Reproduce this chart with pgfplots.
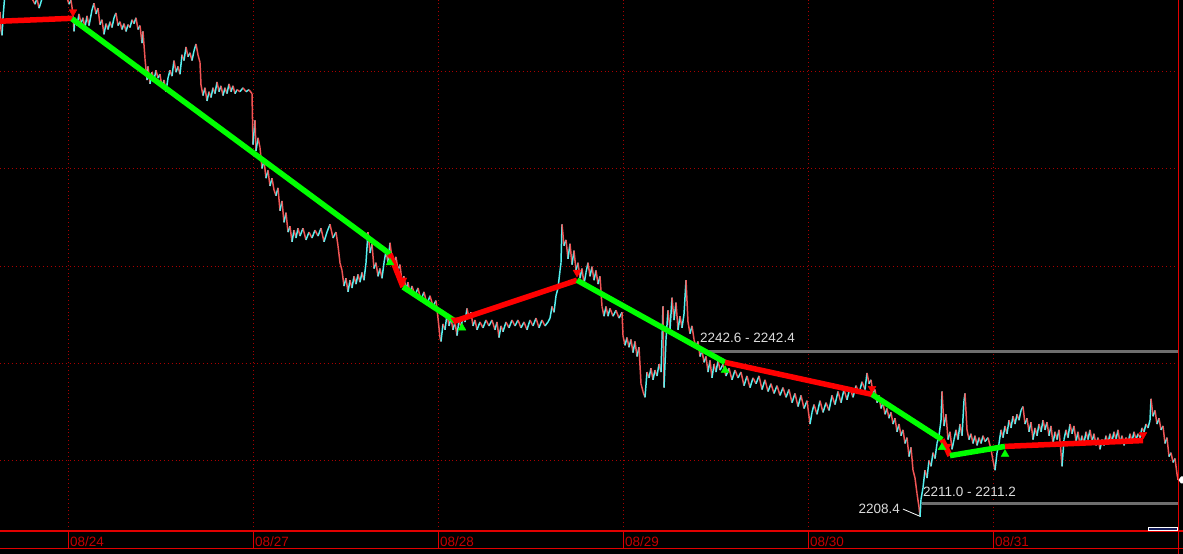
\documentclass[border=0pt]{standalone}
\usepackage{pgfplots}
\usepackage{pgfplotstable}
\pgfplotsset{compat=1.18}
\usepackage{fontspec}
\setmainfont{Liberation Sans}

\definecolor{gridred}{RGB}{170,0,0}
\definecolor{axred}{RGB}{225,0,0}
\definecolor{labred}{RGB}{195,0,0}
\definecolor{upcyan}{RGB}{85,240,240}
\definecolor{dnred}{RGB}{240,85,85}
\definecolor{zzgreen}{RGB}{0,255,0}
\definecolor{zzred}{RGB}{255,0,0}
\definecolor{lvlgray}{RGB}{110,110,110}
\definecolor{txtgray}{RGB}{220,220,220}

% price path: bar index, price, direction of the following move (1 up, 0 down)
\pgfplotstableread{
x p c
0 2312.3 0
1 2308.7 0
2 2307.5 1
3 2311.1 1
5 2316.3 1
10 2317.7 0
20 2317.1 0
30 2315.9 0
35 2313.9 1
37 2315.1 0
39 2313.1 1
41 2314.3 1
44 2316.7 1
55 2317.5 0
66 2315.9 0
69 2313.9 1
71 2314.7 0
73 2311.9 0
74 2308.3 1
75 2311.1 0
77 2309.5 1
79 2311.9 0
81 2309.9 1
83 2311.1 0
85 2309.1 1
87 2311.5 0
89 2309.5 1
92 2312.7 1
94 2314.1 0
96 2311.9 1
98 2313.1 0
100 2309.7 1
102 2310.7 0
104 2307.7 1
106 2309.9 0
108 2308.7 1
110 2310.3 0
112 2309.1 1
114 2311.1 1
116 2312.1 0
118 2309.5 1
120 2310.3 0
122 2308.7 1
124 2309.9 0
126 2308.3 1
128 2309.7 0
130 2309.1 1
132 2310.7 0
134 2309.9 1
136 2311.1 0
138 2308.7 1
140 2309.5 0
142 2305.9 1
143 2308.3 0
145 2302.7 0
147 2298.3 1
148 2301.1 0
150 2297.5 1
152 2299.9 0
154 2298.3 1
156 2300.3 0
158 2298.7 1
160 2299.5 0
162 2296.7 1
164 2298.3 0
166 2295.9 1
168 2298.7 1
170 2300.3 0
172 2299.1 1
174 2302.3 0
176 2299.9 1
178 2301.1 0
180 2299.5 1
182 2303.5 0
184 2302.3 1
186 2305.1 0
188 2303.1 1
190 2303.9 0
192 2302.3 1
194 2304.3 1
196 2305.7 0
198 2303.5 0
200 2301.9 0
201 2297.3 0
203 2295.1 1
205 2296.7 0
207 2294.0 1
209 2295.9 0
211 2294.7 1
213 2296.7 0
215 2295.5 1
217 2297.9 0
219 2295.9 1
221 2297.1 0
223 2295.1 1
225 2296.7 0
227 2295.5 1
229 2297.5 0
231 2295.9 1
233 2297.1 0
235 2295.5 1
237 2296.3 0
240 2295.9 1
243 2296.7 0
246 2295.9 1
249 2296.3 0
252 2295.5 0
253 2285.0 1
255 2290.0 0
256 2283.7 1
258 2286.4 0
260 2284.4 0
262 2280.1 1
264 2281.7 0
266 2278.1 1
268 2279.7 0
270 2276.5 1
272 2278.1 0
274 2275.7 0
276 2274.5 1
278 2276.1 0
280 2271.4 1
282 2273.4 0
284 2269.0 1
286 2271.0 0
288 2267.0 1
290 2268.2 0
292 2265.0 1
294 2267.4 0
296 2265.8 1
298 2267.8 0
300 2266.2 1
303 2267.8 0
306 2265.4 1
309 2267.0 0
312 2265.8 1
315 2267.4 0
318 2266.2 1
321 2267.8 0
324 2265.0 1
327 2267.0 1
330 2268.6 0
333 2265.8 1
336 2267.0 0
338 2264.2 0
340 2260.7 0
342 2259.1 0
344 2255.9 1
346 2257.5 0
348 2254.7 1
350 2257.1 0
352 2255.5 1
354 2257.9 0
356 2256.3 1
358 2258.3 0
360 2256.7 1
362 2258.7 0
364 2257.1 1
366 2260.7 1
368 2267.0 0
370 2262.7 1
372 2264.6 0
374 2259.5 1
376 2260.7 0
378 2257.9 1
380 2259.5 0
382 2257.5 1
384 2260.7 1
386 2263.1 0
388 2260.7 1
390 2264.8 0
392 2261.5 0
394 2260.7 1
396 2261.9 0
398 2259.1 1
400 2260.3 0
402 2256.7 1
404 2257.9 0
406 2255.1 1
408 2256.7 0
410 2254.3 1
412 2255.9 0
415 2253.9 1
418 2255.5 0
421 2252.9 1
424 2254.7 0
427 2252.1 1
430 2253.9 0
433 2251.7 1
436 2252.9 0
438 2249.3 0
440 2245.3 0
441 2244.5 1
443 2248.1 0
445 2246.9 1
447 2250.1 0
449 2247.7 1
451 2249.3 0
453 2246.9 1
455 2248.5 0
457 2245.7 1
459 2248.9 0
461 2247.3 1
463 2249.7 0
465 2248.5 1
467 2251.3 0
469 2249.3 1
471 2250.5 0
473 2247.7 1
475 2248.9 0
477 2246.9 1
480 2248.5 0
483 2247.3 1
486 2248.9 0
489 2247.7 1
492 2248.9 0
495 2246.9 1
497 2248.5 0
499 2245.3 1
501 2247.7 0
503 2246.5 1
506 2248.5 0
509 2247.3 1
512 2248.9 0
515 2247.7 1
518 2248.9 0
521 2247.3 1
524 2248.5 0
527 2246.9 1
530 2248.9 0
533 2247.7 1
536 2249.3 0
539 2247.3 1
542 2248.9 0
545 2247.7 1
548 2248.5 1
550 2249.3 1
552 2251.7 0
554 2250.5 1
556 2253.9 1
558 2255.5 1
560 2259.1 1
561 2260.7 1
562 2268.6 0
564 2264.2 1
566 2265.4 0
568 2261.5 1
570 2264.6 0
572 2260.3 1
574 2263.2 0
576 2259.1 1
578 2260.7 0
580 2257.5 1
582 2259.5 0
584 2256.3 1
586 2258.7 1
588 2260.7 0
590 2257.9 1
592 2259.9 0
594 2257.1 1
596 2259.1 0
598 2256.3 1
600 2257.9 0
602 2251.7 0
604 2249.7 1
606 2251.7 0
608 2249.7 1
610 2251.3 0
613 2249.7 1
616 2250.9 0
619 2249.3 1
622 2250.5 0
623 2245.7 0
625 2243.7 1
627 2245.3 0
629 2243.3 1
631 2244.9 0
633 2242.2 1
635 2244.5 0
637 2241.4 1
639 2243.3 0
641 2235.8 0
643 2234.2 0
645 2233.0 1
647 2238.2 0
649 2237.0 1
651 2239.0 0
653 2236.6 1
655 2238.6 0
657 2237.4 1
659 2239.8 0
661 2238.2 1
662 2244.9 1
663 2251.7 0
664 2235.0 1
666 2244.9 1
668 2250.9 0
670 2246.9 1
672 2253.5 0
674 2248.9 1
676 2252.5 0
678 2246.9 1
680 2249.7 0
682 2247.3 1
684 2250.1 1
686 2257.1 0
688 2248.5 0
690 2246.1 1
692 2247.7 0
694 2244.9 0
696 2243.3 1
698 2244.5 0
700 2241.4 1
702 2242.6 0
704 2240.2 1
706 2241.4 0
708 2238.2 1
710 2240.6 0
712 2237.0 1
714 2239.8 0
716 2238.2 1
718 2240.6 0
720 2238.6 1
723 2239.8 0
726 2237.4 1
729 2239.0 0
732 2236.6 1
735 2238.6 0
738 2237.0 1
741 2238.2 0
744 2235.4 1
747 2237.4 0
750 2235.0 1
753 2237.0 0
756 2235.8 1
759 2237.4 0
762 2234.6 1
765 2236.6 0
768 2234.2 1
771 2235.8 0
774 2233.8 1
777 2235.4 0
780 2233.4 1
783 2235.0 0
786 2233.0 1
789 2234.6 0
792 2231.9 1
795 2233.8 0
798 2231.1 1
801 2233.4 0
804 2230.7 1
807 2232.3 0
810 2227.5 1
812 2229.9 1
814 2231.5 0
817 2229.5 1
820 2232.3 0
823 2229.9 1
826 2231.9 0
829 2230.3 1
832 2233.4 0
835 2231.5 1
838 2234.2 0
841 2231.9 1
844 2234.6 0
847 2232.5 1
850 2235.0 0
853 2233.0 1
856 2235.4 0
859 2233.8 1
862 2236.2 0
865 2234.6 1
867 2238.0 0
869 2235.8 1
871 2236.6 0
873 2233.8 1
875 2234.6 0
877 2231.9 1
879 2233.4 0
881 2230.7 1
883 2231.9 0
885 2229.5 1
887 2230.7 0
889 2228.7 1
891 2229.9 0
893 2227.5 1
895 2228.7 0
897 2225.9 1
899 2227.5 0
901 2225.1 1
903 2226.3 0
905 2223.5 1
907 2224.7 0
909 2220.8 1
911 2222.7 0
913 2218.0 0
915 2216.4 0
917 2213.2 0
919 2210.4 0
920 2208.4 1
921 2212.0 1
923 2214.4 1
925 2218.0 0
927 2216.4 1
929 2220.0 0
931 2218.8 1
933 2221.6 0
935 2220.4 1
937 2223.5 1
939 2225.1 1
941 2228.3 1
942 2234.2 0
944 2227.1 1
946 2229.5 0
948 2224.3 1
950 2225.9 0
952 2222.3 1
954 2224.3 1
956 2226.3 0
958 2224.3 1
960 2227.5 0
962 2225.1 1
964 2232.3 1
965 2233.8 0
967 2226.3 0
969 2224.3 1
971 2225.5 0
973 2223.5 1
975 2225.1 0
977 2223.1 1
979 2224.7 0
981 2223.5 1
983 2225.1 0
985 2223.9 1
988 2224.7 0
991 2222.3 0
993 2220.0 0
995 2218.0 1
997 2221.6 1
999 2223.5 1
1001 2226.3 0
1003 2224.7 1
1005 2227.1 0
1007 2225.5 1
1009 2228.3 0
1011 2226.7 1
1013 2229.1 0
1015 2227.5 1
1017 2229.5 0
1019 2228.3 1
1021 2230.3 1
1023 2231.1 0
1025 2227.5 1
1027 2228.7 0
1029 2225.9 1
1031 2227.9 0
1033 2224.3 1
1035 2226.7 0
1037 2225.1 1
1039 2227.5 0
1041 2225.9 1
1043 2228.3 0
1045 2226.3 1
1047 2227.9 0
1049 2225.1 1
1051 2227.1 0
1053 2223.5 1
1055 2225.9 0
1057 2224.3 1
1059 2226.3 0
1061 2221.6 0
1062 2218.8 1
1064 2224.3 1
1066 2226.3 0
1068 2224.7 1
1070 2227.5 0
1072 2225.5 1
1074 2227.1 0
1076 2223.9 1
1078 2225.9 0
1080 2223.1 1
1082 2225.1 0
1084 2223.5 1
1086 2225.9 0
1088 2224.3 1
1090 2226.3 0
1092 2223.9 1
1094 2225.5 0
1096 2223.1 1
1098 2224.7 0
1100 2222.3 1
1102 2224.3 0
1104 2223.1 1
1106 2225.1 0
1108 2223.5 1
1110 2225.5 0
1112 2223.9 1
1114 2225.9 0
1116 2224.3 1
1118 2226.3 0
1120 2223.5 1
1122 2225.1 0
1124 2223.1 1
1126 2224.7 0
1128 2223.5 1
1130 2225.5 0
1132 2223.9 1
1134 2225.9 0
1136 2224.3 1
1138 2225.5 0
1140 2224.7 1
1142 2226.7 0
1144 2225.9 1
1146 2227.5 0
1148 2226.7 1
1150 2228.3 1
1151 2232.7 0
1153 2229.1 1
1155 2230.3 0
1157 2227.5 1
1159 2228.7 0
1161 2226.3 1
1163 2227.1 0
1165 2223.5 1
1167 2224.7 0
1169 2220.8 1
1171 2221.6 0
1173 2219.6 1
1175 2220.4 0
1177 2217.2 0
1178 2216.0 0
}\pricedata

\begin{document}
\begin{tikzpicture}[x=1pt,y=1pt]
\fill[black] (0pt,0pt) rectangle (1183pt,554pt);
\useasboundingbox (0pt,0pt) rectangle (1183pt,554pt);

\begin{axis}[
  at={(0pt,23pt)}, anchor=south west,
  scale only axis, width=1178.7pt, height=531pt,
  xmin=0, xmax=1178.7, ymin=2205.49, ymax=2314.77,
  axis line style={draw=none},
  tick align=inside,
  xtick={68.3,253.3,438.3,623.3,808.3,993.3},
  xticklabels={08/24,08/27,08/28,08/29,08/30,08/31},
  xtick pos=bottom,
  ytick={2220,2240,2260,2280,2300},
  yticklabels={},
  tick style={draw=none},
  grid=major,
  major grid style={gridred, line width=1pt, dash pattern=on 1pt off 2.9pt},
  xticklabel style={anchor=base west, inner sep=0pt, xshift=1.5pt, yshift=-16pt,
    font=\fontsize{13.5}{15}\selectfont, text=labred},
  colormap={updown}{color(0cm)=(dnred) color(1cm)=(upcyan)},
]

% traded price, coloured by the direction of each move
\addplot[mesh, point meta=explicit, shader=flat corner, line width=1.5pt,
  point meta min=0, point meta max=1]
  table[x=x, y=p, meta=c] {\pricedata};

% reference levels
\addplot[lvlgray, line width=3pt] coordinates {(700,2242.5) (1178.7,2242.5)};
\addplot[lvlgray, line width=3pt] coordinates {(922,2211.1) (1178.7,2211.1)};

% swing lines
\addplot[zzred, line width=5.5pt] coordinates {(0,2310.4) (72,2311.0)};
\addplot[zzgreen, line width=5.5pt] coordinates {(72,2310.9) (390,2262.5)};
\addplot[zzred, line width=5.5pt] coordinates {(390,2262.5) (403,2255.7)};
\addplot[zzgreen, line width=5.5pt] coordinates {(403,2255.7) (455,2248.7)};
\addplot[zzred, line width=5.5pt] coordinates {(455,2248.7) (577,2257.1)};
\addplot[zzgreen, line width=5.5pt] coordinates {(577,2257.1) (725,2240.2)};
\addplot[zzred, line width=5.5pt] coordinates {(725,2240.2) (872,2233.6)};
\addplot[zzgreen, line width=5.5pt] coordinates {(872,2233.6) (942,2224.3)};
\addplot[zzred, line width=5.5pt] coordinates {(942,2224.3) (950,2221.0)};
\addplot[zzgreen, line width=5.5pt] coordinates {(950,2221.0) (1005,2222.9)};
\addplot[zzred, line width=5.5pt] coordinates {(1005,2222.9) (1143,2224.1)};

% swing markers
\addplot[only marks, mark=triangle*, mark size=4.5pt,
  mark options={rotate=180, fill=zzred, draw=zzred}]
  coordinates {(73,2312.3) (403,2257.1) (455,2248.9) (577,2258.7) (872,2234.8) (947,2222.9) (1143,2225.3)};
\addplot[only marks, mark=triangle*, mark size=4.5pt,
  mark options={fill=zzgreen, draw=zzgreen}]
  coordinates {(390,2260.7) (462,2247.3) (725,2238.6) (942,2222.7) (1005,2221.3)};

% level labels
\node[anchor=west, inner sep=0pt, text=txtgray, font=\fontsize{13.5}{15}\selectfont]
  at (axis cs:700,2245.2) {2242.6 - 2242.4};
\node[anchor=west, inner sep=0pt, text=txtgray, font=\fontsize{13.5}{15}\selectfont]
  at (axis cs:923,2213.6) {2211.0 - 2211.2};
\node[anchor=east, inner sep=0pt, text=txtgray, font=\fontsize{13.5}{15}\selectfont]
  at (axis cs:900,2210.0) {2208.4};
\draw[white, line width=0.8pt] (axis cs:903,2210.0) -- (axis cs:919,2208.6);
\end{axis}

% frame and date band
\draw[axred, line width=1.3pt] (0pt,23pt) -- (1183pt,23pt);
\draw[axred, line width=1.3pt] (0pt,5.6pt) -- (1183pt,5.6pt);
\draw[axred, line width=1.3pt] (1178.7pt,0pt) -- (1178.7pt,554pt);
\foreach \t in {68.3,253.3,438.3,623.3,808.3,993.3}
  \draw[axred, line width=1.3pt] (\t pt,5.6pt) -- (\t pt,23pt);

% last price marker and scroll bar
\fill[white] (1178.5pt,74pt) -- (1181pt,77.5pt) -- (1183pt,77.5pt) -- (1183pt,70.5pt) -- (1181pt,70.5pt) -- cycle;
\draw[white, fill={rgb,255:red,20;green,30;blue,90}, line width=0.8pt] (1148pt,24pt) rectangle (1177.5pt,26.7pt);
\end{tikzpicture}
\end{document}
